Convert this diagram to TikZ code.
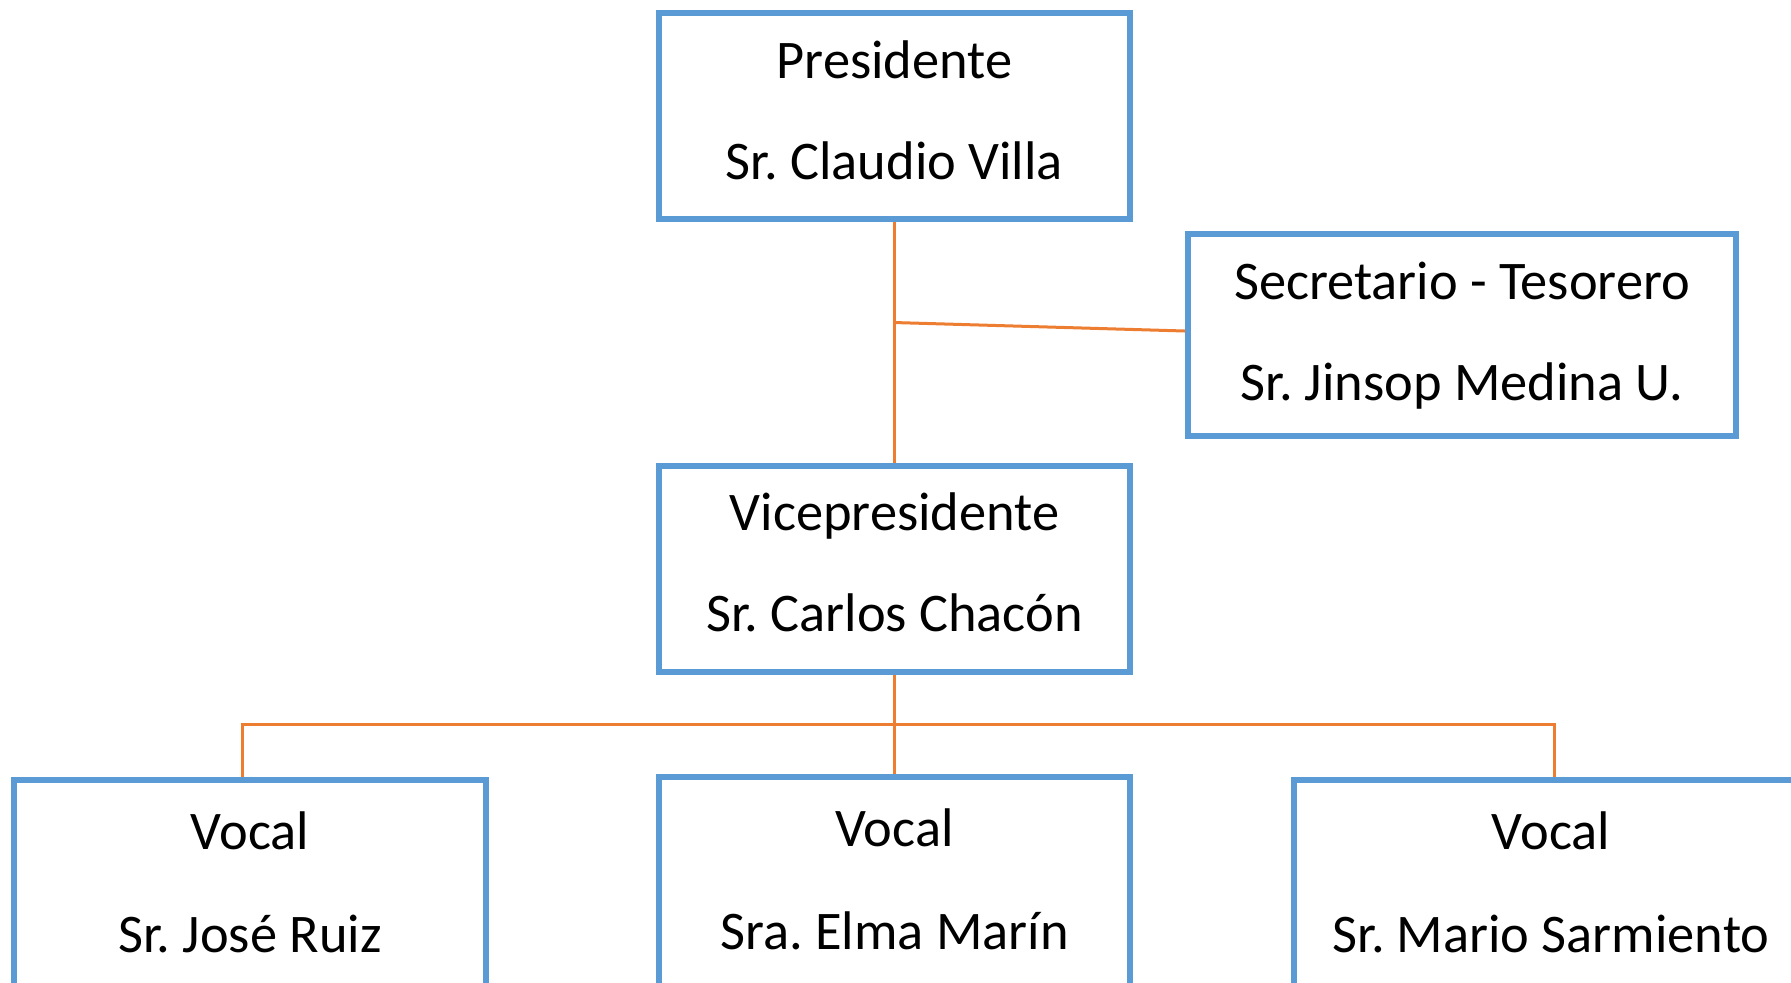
\documentclass[tikz,border=0pt]{standalone}
\usepackage{fontspec}
\setmainfont{Carlito}
\usetikzlibrary{calc}
\definecolor{boxblue}{HTML}{5B9BD5}
\definecolor{lineorange}{HTML}{ED7D31}
\frenchspacing
\begin{document}
\begin{tikzpicture}[x=0.5pt,y=-0.5pt,
  orgbox/.style={draw=boxblue,line width=3pt,rectangle,inner sep=0pt},
  conn/.style={draw=lineorange,line width=1.5pt},
  txt/.style={anchor=base,inner sep=0pt,font=\fontsize{27.2}{31}\selectfont}]
\clip (0,0) rectangle (1791,982);
% boxes
\node[orgbox,minimum width=235.5pt,minimum height=103pt] (pres) at (894.5,116) {};
\node[orgbox,minimum width=274pt,minimum height=101pt] (sec) at (1462,335) {};
\node[orgbox,minimum width=235.5pt,minimum height=103pt] (vp) at (894.5,568.5) {};
\node[orgbox,minimum width=236pt,minimum height=120pt] (v1) at (250,900) {};
\node[orgbox,minimum width=235.5pt,minimum height=120pt] (v2) at (894.5,897) {};
\node[orgbox,minimum width=257pt,minimum height=120pt] (v3) at (1551,900) {};
% texts
\node[txt] (pres-r) at ([yshift=-34pt]pres.north) {Presidente};
\node[txt] (pres-n) at ([yshift=-84.5pt]pres.north) {Sr. Claudio Villa};
\node[txt] (sec-r) at ([yshift=-34pt]sec.north) {Secretario - Tesorero};
\node[txt] (sec-n) at ([yshift=-84.5pt]sec.north) {Sr. Jinsop Medina U.};
\node[txt] (vp-r) at ([yshift=-34pt]vp.north) {Vicepresidente};
\node[txt] (vp-n) at ([yshift=-84.5pt]vp.north) {Sr. Carlos Chacón};
\node[txt] (v1-r) at ([yshift=-36pt]v1.north) {Vocal};
\node[txt] (v1-n) at ([yshift=-87.5pt]v1.north) {Sr. José Ruiz};
\node[txt] (v2-r) at ([yshift=-36pt]v2.north) {Vocal};
\node[txt] (v2-n) at ([yshift=-87.5pt]v2.north) {Sra. Elma Marín};
\node[txt] (v3-r) at ([yshift=-36pt]v3.north) {Vocal};
\node[txt] (v3-n) at ([yshift=-87.5pt]v3.north) {Sr. Mario Sarmiento};
% connectors
\coordinate (j) at ($(pres.south)!0.418!(vp.north)$);
\coordinate (bus) at ($(vp.south)!0.5!(v2.north)$);
\draw[conn] (pres.south) -- (vp.north);
\draw[conn] (j) -- ([yshift=2pt]sec.west);
\draw[conn] (vp.south) -- (v2.north);
\draw[conn] ([xshift=-4pt]v1.north) |- (bus) -| ([xshift=1.5pt]v3.north);
\end{tikzpicture}
\end{document}
